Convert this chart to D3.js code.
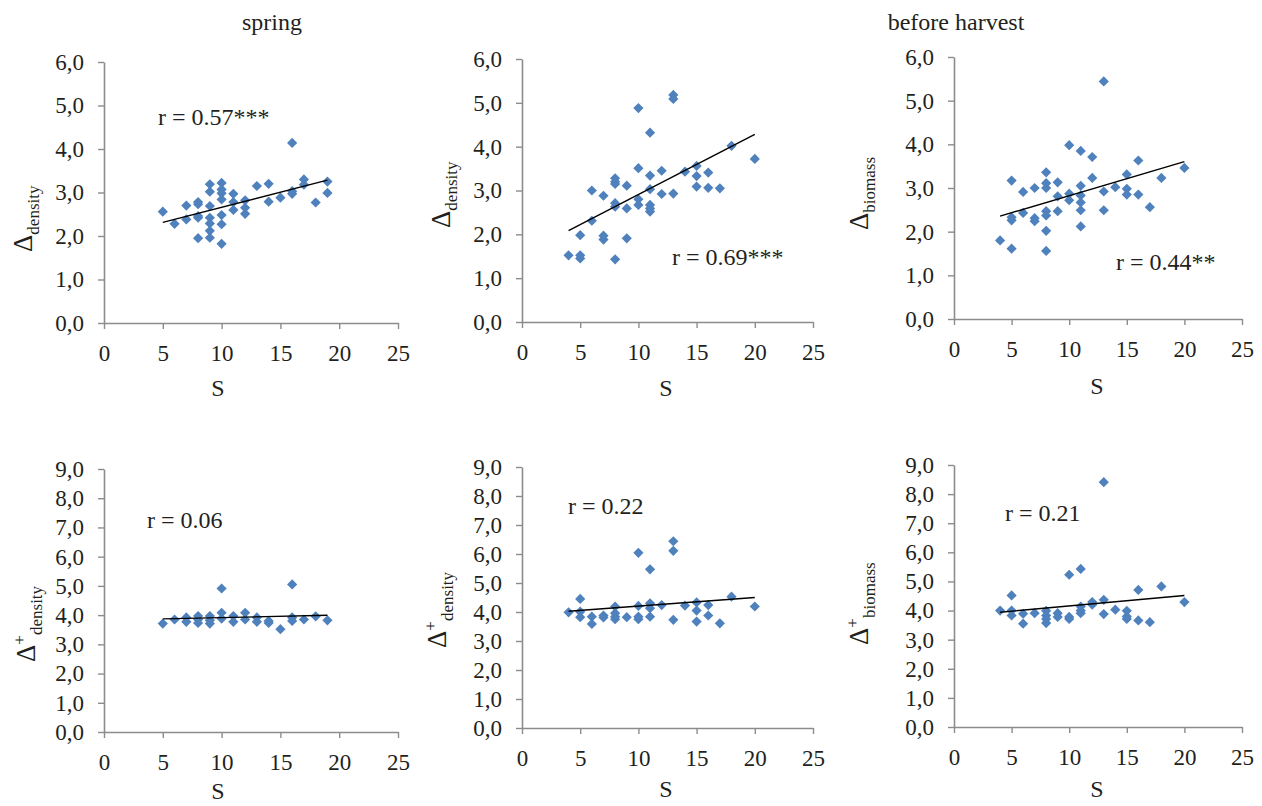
<!DOCTYPE html>
<html>
<head>
<meta charset="utf-8">
<script src="https://cdn.jsdelivr.net/npm/d3@7"></script>
<style>
  body { margin: 0; background: #fff; }
  svg text { font-family: "Liberation Serif", "Times New Roman", serif; fill: #231f20; }
</style>
</head>
<body>
<div id="chart"></div>
<script>
// S (species richness) and index values
var p1S = [5,6,7,7,8,8,8,8,8,9,9,9,9,9,9,9,10,10,10,10,10,10,10,11,11,11,12,12,12,13,14,14,15,16,16,16,17,17,18,19,19];
var p1V = [2.56,2.28,2.70,2.38,2.78,2.73,2.46,2.42,1.95,3.19,3.02,2.69,2.42,2.29,2.12,1.96,3.22,3.07,2.98,2.84,2.48,2.27,1.82,2.97,2.78,2.60,2.82,2.65,2.51,3.15,3.20,2.79,2.88,4.14,3.03,2.97,3.30,3.18,2.77,3.25,2.99];

var p2S = [4,5,5,5,6,6,7,7,7,8,8,8,8,8,8,9,9,9,10,10,10,10,11,11,11,11,11,11,12,12,13,13,13,14,15,15,15,16,16,17,18,20];
var p2V = [1.52,1.98,1.52,1.45,3.00,2.31,2.88,1.97,1.88,3.28,3.20,3.15,2.71,2.63,1.43,3.11,2.59,1.91,4.88,3.51,2.80,2.67,4.32,3.34,3.03,2.67,2.59,2.52,3.45,2.92,5.18,5.09,2.93,3.43,3.56,3.33,3.09,3.41,3.06,3.05,4.02,3.72];

var p3S = [4,5,5,5,5,6,6,7,7,7,8,8,8,8,8,8,8,9,9,9,10,10,10,11,11,11,11,11,11,12,12,13,13,13,14,15,15,15,16,16,17,18,20];
var p3V = [1.80,3.17,2.33,2.26,1.61,2.91,2.43,3.00,2.31,2.24,3.36,3.11,3.00,2.47,2.37,2.02,1.56,3.13,2.81,2.47,3.98,2.87,2.72,3.85,3.05,2.83,2.67,2.49,2.12,3.71,3.23,5.44,2.92,2.49,3.02,3.31,2.98,2.85,3.63,2.85,2.56,3.23,3.46];

var p4S = [5,6,7,7,8,8,8,9,9,9,10,10,10,11,11,12,12,13,13,14,14,15,16,16,16,17,18,19];
var p4V = [3.71,3.85,3.92,3.77,3.97,3.85,3.73,3.97,3.82,3.71,4.91,4.08,3.88,3.97,3.77,4.08,3.85,3.92,3.77,3.80,3.73,3.52,5.05,3.92,3.80,3.85,3.96,3.82];

var p5S = [4,5,5,5,6,6,7,7,8,8,8,8,9,10,10,10,10,11,11,11,11,12,13,13,13,14,15,15,15,16,16,17,18,20];
var p5V = [3.99,4.45,4.01,3.82,3.84,3.59,3.88,3.81,4.19,3.96,3.84,3.75,3.82,6.04,4.21,3.84,3.75,5.47,4.30,4.13,3.84,4.24,6.44,6.11,3.73,4.22,4.33,4.05,3.67,4.24,3.88,3.61,4.53,4.19];

var p6S = [4,5,5,5,6,6,7,8,8,8,8,9,9,10,10,10,11,11,11,11,12,12,13,13,13,14,15,15,15,16,16,17,18,20];
var p6V = [4.00,4.52,4.00,3.83,3.89,3.55,3.91,3.99,3.83,3.71,3.57,3.91,3.78,5.23,3.78,3.71,5.43,4.14,4.00,3.91,4.29,4.20,8.41,4.37,3.88,4.03,3.99,3.80,3.71,4.71,3.66,3.60,4.83,4.29];

var xTicks = [0,5,10,15,20,25];
var yTicksTop = [0,1,2,3,4,5,6];
var yTicksBottom = [0,1,2,3,4,5,6,7,8,9];
var rLabels = ["r = 0.57***","r = 0.69***","r = 0.44**","r = 0.06","r = 0.22","r = 0.21"];
var yNames = ["density","density","biomass","density","density","biomass"];
var columnTitles = ["spring","before harvest"];

var width = 1262, height = 806;
var blue = "#4f81bd", axisGrey = "#8c8c8c";

var svg = d3.select("#chart").append("svg")
  .attr("width", width)
  .attr("height", height);

// panel frames (pixel boxes of the plot areas)
var panels = [
  {s: p1S, v: p1V, ticks: yTicksTop,    x0: 104, x1: 398,  y0: 62,  y1: 323, rx: 158,  ry: 125, tx: 32,  ty: 252, sy: 396, plus: false},
  {s: p2S, v: p2V, ticks: yTicksTop,    x0: 522, x1: 813,  y0: 59,  y1: 322, rx: 672,  ry: 265, tx: 450, ty: 228, sy: 396, plus: false},
  {s: p3S, v: p3V, ticks: yTicksTop,    x0: 954, x1: 1242, y0: 57,  y1: 319, rx: 1116, ry: 270, tx: 868, ty: 230, sy: 394, plus: false},
  {s: p4S, v: p4V, ticks: yTicksBottom, x0: 104, x1: 398,  y0: 469, y1: 732, rx: 147,  ry: 528, tx: 35,  ty: 662, sy: 799, plus: true},
  {s: p5S, v: p5V, ticks: yTicksBottom, x0: 522, x1: 813,  y0: 467, y1: 728, rx: 568,  ry: 514, tx: 446, ty: 648, sy: 797, plus: true},
  {s: p6S, v: p6V, ticks: yTicksBottom, x0: 954, x1: 1242, y0: 465, y1: 727, rx: 1005, ry: 521, tx: 868, ty: 645, sy: 797, plus: true}
];
var sLabelX = [218, 666, 1097, 218, 666, 1097];

var comma = function(d) { return d3.format(".1f")(d).replace(".", ","); };
var diamond = d3.symbol().type(d3.symbolSquare).size(52);

panels.forEach(function(p, i) {
  var xScale = d3.scaleLinear().domain([0, 25]).range([p.x0, p.x1]);
  var yScale = d3.scaleLinear().domain([0, d3.max(p.ticks)]).range([p.y1, p.y0]);
  var g = svg.append("g");

  var xAxis = g.append("g")
    .attr("transform", "translate(0," + p.y1 + ")")
    .call(d3.axisBottom(xScale).tickValues(xTicks).tickSize(6).tickSizeOuter(0).tickPadding(16));
  var yAxis = g.append("g")
    .attr("transform", "translate(" + p.x0 + ",0)")
    .call(d3.axisLeft(yScale).tickValues(p.ticks).tickFormat(comma).tickSize(6).tickSizeOuter(0).tickPadding(14));

  [xAxis, yAxis].forEach(function(a) {
    a.select(".domain").attr("stroke", axisGrey).attr("stroke-width", 1.6);
    a.selectAll(".tick line").attr("stroke", axisGrey).attr("stroke-width", 1.4);
    a.selectAll(".tick text").attr("font-size", 23).attr("fill", "#231f20")
      .attr("font-family", "Liberation Serif");
  });

  var pts = p.s.map(function(s, j) { return {s: s, v: p.v[j]}; });

  // least-squares trend line
  var mx = d3.mean(pts, function(d) { return d.s; });
  var my = d3.mean(pts, function(d) { return d.v; });
  var sxy = d3.sum(pts, function(d) { return (d.s - mx) * (d.v - my); });
  var sxx = d3.sum(pts, function(d) { return (d.s - mx) * (d.s - mx); });
  var slope = sxy / sxx, icpt = my - slope * mx;
  var ext = d3.extent(pts, function(d) { return d.s; });

  g.selectAll(".pt")
    .data(pts)
    .enter().append("path")
    .attr("class", "pt")
    .attr("d", diamond)
    .attr("transform", function(d) {
      return "translate(" + xScale(d.s) + "," + yScale(d.v) + ") rotate(45)";
    })
    .attr("fill", blue);

  g.append("line")
    .attr("x1", xScale(ext[0])).attr("y1", yScale(icpt + slope * ext[0]))
    .attr("x2", xScale(ext[1])).attr("y2", yScale(icpt + slope * ext[1]))
    .attr("stroke", "#000").attr("stroke-width", 1.4);

  g.append("text")
    .attr("x", p.rx).attr("y", p.ry)
    .attr("font-size", 24)
    .text(rLabels[i]);

  g.append("text")
    .attr("x", sLabelX[i]).attr("y", p.sy)
    .attr("text-anchor", "middle")
    .attr("font-size", 24)
    .text("S");

  var yt = g.append("text")
    .attr("transform", "translate(" + p.tx + "," + p.ty + ") rotate(-90)");
  yt.append("tspan").attr("font-size", 27).text("\u0394");
  if (p.plus) {
    yt.append("tspan").attr("font-size", 17).attr("dy", -10).text("+");
    yt.append("tspan").attr("font-size", 17).attr("dy", 17).text(yNames[i]);
  } else {
    yt.append("tspan").attr("font-size", 17).attr("dy", 7).text(yNames[i]);
  }
});

svg.append("text").attr("x", 272).attr("y", 30).attr("text-anchor", "middle")
  .attr("font-size", 24).text(columnTitles[0]);
svg.append("text").attr("x", 956).attr("y", 30).attr("text-anchor", "middle")
  .attr("font-size", 24).text(columnTitles[1]);
</script>
</body>
</html>
